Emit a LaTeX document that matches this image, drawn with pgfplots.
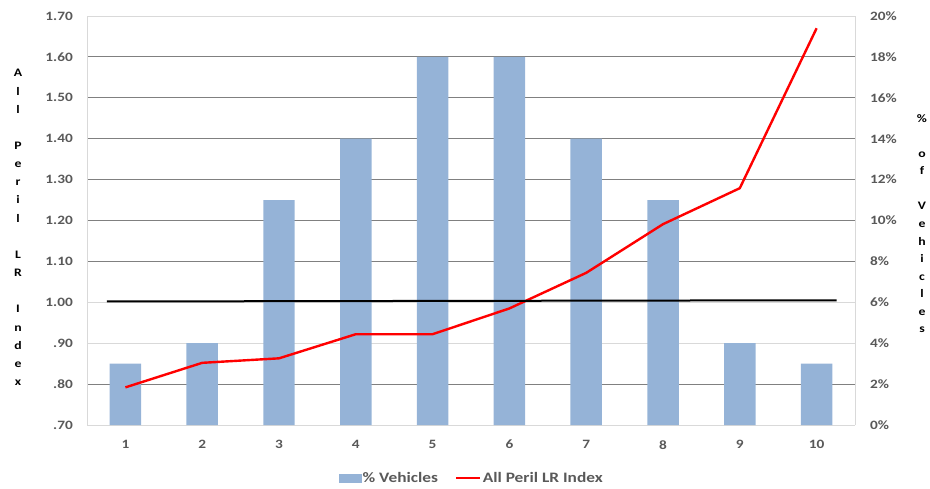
\documentclass[border=0pt]{standalone}
\usepackage{pgfplots}
\pgfplotsset{compat=1.18}
\usepackage{fontspec}
\setmainfont{Carlito}[FakeStretch=1.2]

\definecolor{barblue}{HTML}{95B3D7}
\definecolor{lrred}{HTML}{FF0000}
\definecolor{labelgray}{HTML}{595959}
\definecolor{gridgray}{HTML}{808080}
\definecolor{framegray}{HTML}{D9D9D9}

\pgfplotsset{
  common/.style={
    scale only axis,
    width=768bp, height=409bp,
    xmin=0.5, xmax=10.5,
    clip=false,
    major tick length=0pt,
    /pgf/number format/assume math mode=true,
    tick label style={font=\fontsize{12.8}{14}\selectfont\bfseries, text=labelgray, inner sep=0pt},
  },
}

\begin{document}
\begin{tikzpicture}
% Share of vehicles per decile (right scale), bars and grid
\begin{axis}[
  common,
  ymin=0, ymax=20,
  axis y line*=right,
  axis x line*=bottom,
  axis line style={draw=framegray, line width=0.8bp},
  ytick={2,8,10,12,14,16,18},
  yticklabels={2\%,8\%,10\%,12\%,14\%,16\%,18\%},
  extra y ticks={0,4,6,20},
  extra y tick labels={0\%,4\%,6\%,20\%},
  extra y tick style={grid style={draw=framegray, line width=0.8bp}},
  ymajorgrids,
  grid style={draw=gridgray, line width=0.8bp},
  yticklabel style={anchor=west, xshift=15bp},
  xtick={1,...,10},
  xticklabels={1,2,3,4,5,6,7,8,9,10},
  xticklabel style={anchor=north, yshift=-15bp},
]
\addplot[ybar, bar width=0.41, fill=barblue, draw=none] coordinates {
  (1,3) (2,4) (3,11) (4,14) (5,18) (6,18) (7,14) (8,11) (9,4) (10,3)
};
\draw[framegray, line width=0.8bp] (rel axis cs:0,1) -- (rel axis cs:1,1);
\draw[framegray, line width=0.8bp] (rel axis cs:0,0) -- (rel axis cs:0,1);
\node[align=center, font=\fontsize{11.5}{17.6}\selectfont\bfseries, text=black]
  at (rel axis cs:1,0.5) [xshift=67bp, yshift=-3bp]
  {\%\\[17.6bp]o\\f\\[17.6bp]V\\e\\h\\i\\c\\l\\e\\s};
\end{axis}

% Loss ratio index (left scale)
\begin{axis}[
  common,
  ymin=0.7, ymax=1.7,
  axis y line*=left,
  axis x line=none,
  axis line style={draw=none},
  ytick={0.7,0.8,0.9,1.0,1.1,1.2,1.3,1.4,1.5,1.6,1.7},
  yticklabels={.70,.80,.90,1.00,1.10,1.20,1.30,1.40,1.50,1.60,1.70},
  yticklabel style={anchor=east, xshift=-14bp},
  legend style={
    at={(0.5,0)}, anchor=center, yshift=-53bp, xshift=0.5bp,
    draw=none, fill=none,
    font=\fontsize{14.5}{16}\selectfont\bfseries, text=labelgray,
    nodes={inner sep=1.2bp},
    legend columns=2,
    /tikz/every even column/.append style={column sep=16bp},
  },
]
\addlegendimage{legend image code/.code={\fill[barblue] (0bp,-4bp) rectangle (22bp,4bp);}}
\addlegendentry{\% Vehicles}
\addplot[lrred, line width=2.4bp, line join=round,
  legend image code/.code={\draw[lrred, line width=2.4bp] (0bp,0bp) -- (24bp,0bp);}]
  coordinates {
  (1,0.792) (2,0.852) (3,0.863) (4,0.922) (5,0.922)
  (6,0.985) (7,1.072) (8,1.191) (9,1.279) (10,1.670)
};
\addlegendentry{All Peril LR Index}
\addplot[black, line width=2bp, forget plot] coordinates {(0.76,1.002) (10.26,1.005)};
\node[align=center, font=\fontsize{11.5}{18.2}\selectfont\bfseries, text=black]
  at (rel axis cs:0,0.5) [xshift=-69bp, yshift=-7bp]
  {A\\l\\l\\[18.2bp]P\\e\\r\\i\\l\\[18.2bp]L\\R\\[18.2bp]I\\n\\d\\e\\x};
\end{axis}
\pgfresetboundingbox
\path[use as bounding box] (-87bp,-64bp) rectangle (843bp,425bp);
\end{tikzpicture}
\end{document}
